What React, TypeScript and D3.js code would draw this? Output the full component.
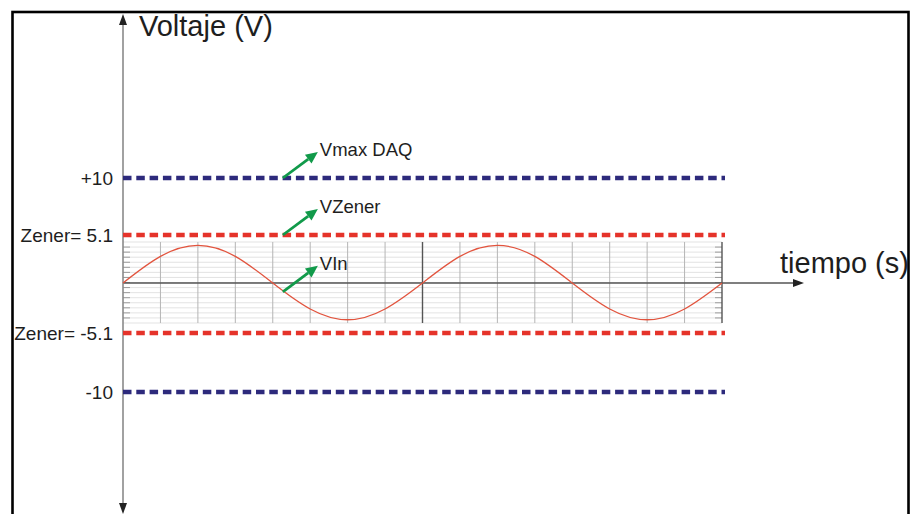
import { useEffect, useRef } from "react";
import * as d3 from "d3";

// Reference levels (V) and their labels on the left
const levelValues = [10, 5.1, -5.1, -10];
const levelLabels = ["+10", "Zener= 5.1", "Zener= -5.1", "-10"];
const levelKinds = ["daq", "zener", "zener", "daq"];

// Input signal sampled at each grid division (time in divisions 0..16)
const vinTimes = d3.range(0, 17);
const vinValues = [
  0, 2.83, 4, 2.83, 0, -2.65, -3.75, -2.65, 0, 2.83, 4, 2.83, 0, -2.65, -3.75,
  -2.65, 0,
];

// Callouts: label, time (div) and voltage where the arrow starts
const calloutLabels = ["Vmax DAQ", "VZener", "VIn"];
const calloutTimes = [4.27, 4.27, 4.27];
const calloutValues = [10, 5.1, -0.9];

export default function App() {
  const svgRef = useRef<SVGSVGElement>(null);

  useEffect(() => {
    if (!svgRef.current) return;
    const width = 914;
    const height = 514;
    const font = "'Liberation Sans', Arial, sans-serif";
    const ink = "#1e1e1e";

    d3.select(svgRef.current).selectAll("*").remove();
    const svg = d3
      .select(svgRef.current)
      .attr("width", width)
      .attr("height", height)
      .attr("viewBox", [0, 0, width, height]);

    const x = d3.scaleLinear().domain([0, 16]).range([123, 722]);
    const y = d3
      .scaleLinear()
      .domain([-10, -5.1, 0, 5.1, 10])
      .range([392, 333, 283, 235, 178]);

    const colors: Record<string, string> = { daq: "#2d2a7c", zener: "#e5332a" };
    const green = "#119a4a";

    svg.append("rect").attr("width", width).attr("height", height).attr("fill", "#fff");

    // Oscilloscope style grid
    const gridTop = 242;
    const gridBottom = 323;
    const gy = d3.scaleLinear().domain([0, 16]).range([gridTop, gridBottom]);
    const grid = svg.append("g");
    grid
      .selectAll("line.h")
      .data(d3.range(0, 17))
      .enter()
      .append("line")
      .attr("x1", x(0))
      .attr("x2", x(16))
      .attr("y1", (d) => gy(d))
      .attr("y2", (d) => gy(d))
      .style("stroke", "#dcdcdc")
      .style("stroke-width", 0.8);
    // short edge ticks
    [0, 16].forEach((edge) => {
      grid
        .selectAll(null)
        .data(d3.range(1, 16))
        .enter()
        .append("line")
        .attr("x1", x(edge))
        .attr("x2", x(edge) + (edge === 0 ? 7 : -7))
        .attr("y1", (d) => gy(d))
        .attr("y2", (d) => gy(d))
        .style("stroke", "#888")
        .style("stroke-width", 0.8);
    });
    grid
      .selectAll("line.v")
      .data(d3.range(1, 17))
      .enter()
      .append("line")
      .attr("x1", (d) => x(d))
      .attr("x2", (d) => x(d))
      .attr("y1", gridTop)
      .attr("y2", gridBottom)
      .style("stroke", (d) => (d === 8 || d === 16 ? "#555" : "#b5b5b5"))
      .style("stroke-width", (d) => (d === 8 || d === 16 ? 1.4 : 1));

    // Time axis
    svg
      .append("line")
      .attr("x1", x(0))
      .attr("x2", 796)
      .attr("y1", y(0))
      .attr("y2", y(0))
      .style("stroke", "#555")
      .style("stroke-width", 1.3);
    svg
      .append("path")
      .attr("d", `M804,${y(0)} L793,${y(0) - 4} L793,${y(0) + 4} Z`)
      .style("fill", "#222");

    // Voltage axis
    svg
      .append("line")
      .attr("x1", x(0))
      .attr("x2", x(0))
      .attr("y1", 22)
      .attr("y2", 506)
      .style("stroke", "#8a8a8a")
      .style("stroke-width", 1.6);
    svg
      .append("path")
      .attr("d", `M${x(0)},14 L${x(0) - 4},25 L${x(0) + 4},25 Z`)
      .style("fill", "#222");
    svg
      .append("path")
      .attr("d", `M${x(0)},514 L${x(0) - 4},503 L${x(0) + 4},503 Z`)
      .style("fill", "#222");

    // Input signal
    const line = d3
      .line<number>()
      .x((d, i) => x(vinTimes[i]))
      .y((d) => y(d))
      .curve(d3.curveNatural);
    svg
      .append("path")
      .attr("d", line(vinValues))
      .style("fill", "none")
      .style("stroke", "#e2543e")
      .style("stroke-width", 1.3);

    // Dashed reference levels
    levelValues.forEach((v, i) => {
      svg
        .append("line")
        .attr("x1", x(0))
        .attr("x2", x(16) + 3)
        .attr("y1", y(v))
        .attr("y2", y(v))
        .style("stroke", colors[levelKinds[i]])
        .style("stroke-width", 4.5)
        .style("stroke-dasharray", "8.5,4.8");
      svg
        .append("text")
        .attr("x", 113)
        .attr("y", y(v))
        .attr("dy", "0.36em")
        .attr("text-anchor", "end")
        .style("font-family", font)
        .style("font-size", "19px")
        .style("fill", ink)
        .text(levelLabels[i]);
    });

    // Callout arrows
    calloutLabels.forEach((label, i) => {
      const x0 = x(calloutTimes[i]);
      const y0 = y(calloutValues[i]);
      const x1 = x0 + 35;
      const y1 = y0 - 26;
      const ang = Math.atan2(y1 - y0, x1 - x0);
      const hl = 12;
      const hw = 5.5;
      const bx = x1 - hl * Math.cos(ang);
      const by = y1 - hl * Math.sin(ang);
      svg
        .append("line")
        .attr("x1", x0)
        .attr("y1", y0)
        .attr("x2", bx)
        .attr("y2", by)
        .style("stroke", green)
        .style("stroke-width", 2.8);
      svg
        .append("path")
        .attr(
          "d",
          `M${x1},${y1} L${bx - hw * Math.sin(ang)},${by + hw * Math.cos(ang)} L${
            bx + hw * Math.sin(ang)
          },${by - hw * Math.cos(ang)} Z`
        )
        .style("fill", green);
      svg
        .append("text")
        .attr("x", x1 + 2)
        .attr("y", y1 + 4)
        .style("font-family", font)
        .style("font-size", "18.5px")
        .style("fill", ink)
        .text(label);
    });

    // Axis titles
    svg
      .append("text")
      .attr("x", 139)
      .attr("y", 36)
      .style("font-family", font)
      .style("font-size", "29px")
      .style("fill", ink)
      .text("Voltaje (V)");
    svg
      .append("text")
      .attr("x", 780)
      .attr("y", 273)
      .style("font-family", font)
      .style("font-size", "29px")
      .style("fill", ink)
      .text("tiempo (s)");

    // Frame
    svg
      .append("rect")
      .attr("x", 12.5)
      .attr("y", 12)
      .attr("width", 896)
      .attr("height", 530)
      .style("fill", "none")
      .style("stroke", "#000")
      .style("stroke-width", 2.6);
  }, []);

  return (
    <div style={{ position: "fixed", left: 0, top: 0 }}>
      <svg ref={svgRef} style={{ display: "block" }} />
    </div>
  );
}
